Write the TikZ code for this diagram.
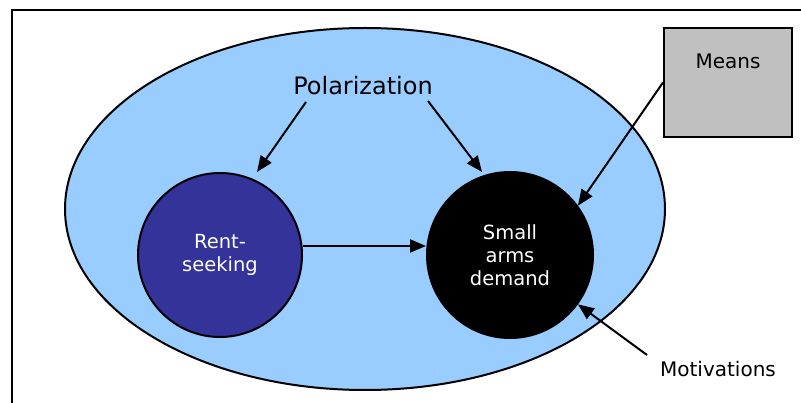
\documentclass[tikz,border=0pt]{standalone}
\usepackage{fontspec}
\setmainfont{DejaVu Sans}
\usetikzlibrary{arrows.meta,shapes.geometric}
\definecolor{lblue}{HTML}{99CCFF}
\definecolor{dblue}{HTML}{333399}
\definecolor{mgray}{HTML}{C0C0C0}
\begin{document}
\begin{tikzpicture}[x=1pt,y=-1pt,
  arr/.style={line width=2pt,-{Triangle[length=16pt,width=13pt]}},
  circ/.style={circle,draw=black,line width=2pt,minimum size=164pt,inner sep=0pt,
    text=white,align=center,font=\fontsize{19.5}{23}\selectfont},
  lbl/.style={inner sep=0pt,font=\fontsize{20}{24}\selectfont}]
\useasboundingbox (0,0) rectangle (801,403);
\begin{scope}
\clip (0,0) rectangle (801,403);
\draw[line width=2pt] (12,10) rectangle (840,440);
\end{scope}
\node[ellipse,draw=black,fill=lblue,line width=2pt,minimum width=600pt,minimum height=362pt,inner sep=0pt] (bg) at (365,209) {};
\node[circ,fill=dblue] (rent) at (220,255) {Rent-\\seeking};
\node[circ,fill=black,minimum size=166pt] (demand) at (510,255) {Small\\arms\\demand};
\node[draw=black,fill=mgray,line width=2pt,minimum width=128pt,minimum height=109pt,inner sep=0pt] (means) at (728,82.5) {};
\node[lbl,anchor=base] (meanslbl) at (728,69) {Means};
\node[inner sep=0pt,font=\fontsize{24}{28}\selectfont,anchor=base] (pol) at (363,95) {Polarization};
\node[lbl,anchor=base] (motiv) at (718,377) {Motivations};
\coordinate (polL) at (306,102);
\coordinate (polLend) at (257,172);
\coordinate (polR) at (428,101);
\coordinate (polRend) at (482,172);
\coordinate (motstart) at (647,355);
\draw[arr] (polL) -- (polLend);
\draw[arr] (polR) -- (polRend);
\draw[arr] (rent.east |- 0,246) -- (demand.west |- 0,246);
\draw[arr] (means.west) -- (demand.36);
\draw[arr] (motstart) -- (demand.-36);
\end{tikzpicture}
\end{document}
